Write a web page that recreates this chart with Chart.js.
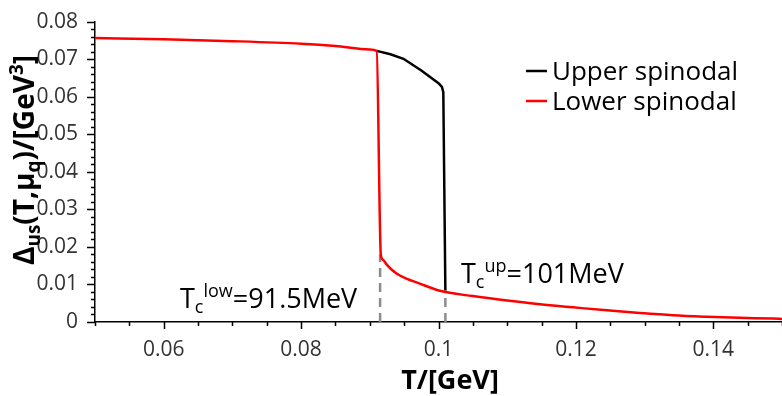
<!DOCTYPE html>
<html>
<head>
<meta charset="utf-8">
<script src="https://cdn.jsdelivr.net/npm/chart.js@4"></script>
<style>
    body { margin: 0; background: #fff; }
    #wrap { width: 782px; height: 396px; position: relative; }
</style>
</head>
<body>
<div id="wrap"><canvas id="chart"></canvas></div>
<script>
// T in GeV, Delta_us in GeV^3
const upperT = [0.0910, 0.0930, 0.0949, 0.0975, 0.1000, 0.1005, 0.1007, 0.1010];
const upperD = [0.0722, 0.0713, 0.0701, 0.0670, 0.0636, 0.0626, 0.0612, 0.0084];

const lowerT = [0.050, 0.060, 0.070, 0.080, 0.085, 0.090, 0.0910, 0.0916, 0.0919, 0.0925, 0.0932, 0.0940, 0.0954, 0.0969, 0.1002, 0.1050, 0.1100, 0.1148, 0.1196, 0.1245, 0.1293, 0.1341, 0.1390, 0.1438, 0.1486, 0.150];
const lowerD = [0.0756, 0.0753, 0.0748, 0.0741, 0.0735, 0.0726, 0.0722, 0.0180, 0.0166, 0.0152, 0.0139, 0.0128, 0.0115, 0.0105, 0.0083, 0.0069, 0.0057, 0.0047, 0.0039, 0.0031, 0.0024, 0.0018, 0.0014, 0.0011, 0.0009, 0.0008];

const seriesNames = ['Upper spinodal', 'Lower spinodal'];
const tcLow = 0.0915, tcLowD = 0.0180;
const tcUp = 0.1010, tcUpD = 0.0084;

const xMajor = [0.06, 0.08, 0.1, 0.12, 0.14];
const yMajor = [0, 0.01, 0.02, 0.03, 0.04, 0.05, 0.06, 0.07, 0.08];

const FONT = "'Open Sans', 'Noto Sans', sans-serif";

const pts = (xs, ys) => xs.map((x, i) => ({ x: x, y: ys[i] }));

function near(v, list) {
    return list.some(m => Math.abs(m - v) < 1e-6);
}

// tick marks (major + minor), drawn outward
const tickMarks = {
    id: 'tickMarks',
    afterDraw(chart) {
        const ctx = chart.ctx, xs = chart.scales.x, ys = chart.scales.y;
        const a = chart.chartArea;
        ctx.save();
        ctx.strokeStyle = '#000';
        ctx.lineWidth = 1.5;
        ctx.beginPath();
        for (let i = 0; i <= 20; i++) {
            const v = 0.05 + i * 0.005;
            const px = Math.round(xs.getPixelForValue(v)) + 0.5;
            const len = near(+v.toFixed(4), xMajor) ? 7 : 4;
            ctx.moveTo(px, a.bottom);
            ctx.lineTo(px, a.bottom + len);
        }
        for (let i = 0; i <= 40; i++) {
            const v = i * 0.002;
            const py = Math.round(ys.getPixelForValue(v)) + 0.5;
            const len = near(+v.toFixed(4), yMajor) ? 8 : 4;
            ctx.moveTo(a.left, py);
            ctx.lineTo(a.left - len, py);
        }
        ctx.stroke();
        ctx.restore();
    }
};

function richText(ctx, parts, x, y, align) {
    let w = 0;
    parts.forEach(p => { ctx.font = p.font; w += ctx.measureText(p.t).width; });
    let cx = align === 'center' ? x - w / 2 : x;
    parts.forEach(p => {
        ctx.font = p.font;
        ctx.fillText(p.t, cx, y + (p.dy || 0));
        cx += ctx.measureText(p.t).width;
    });
}

// titles, annotations, legend
const overlay = {
    id: 'overlay',
    afterDraw(chart) {
        const ctx = chart.ctx;
        ctx.save();
        ctx.fillStyle = '#000';
        ctx.textBaseline = 'alphabetic';
        ctx.textAlign = 'left';

        // y title
        const B = 'bold 28px ' + FONT, Bs = 'bold 19px ' + FONT;
        ctx.save();
        ctx.translate(34, 160);
        ctx.rotate(-Math.PI / 2);
        richText(ctx, [
            { t: 'Δ', font: B }, { t: 'us', font: Bs, dy: 6 },
            { t: '(T,μ', font: B }, { t: 'q', font: Bs, dy: 6 },
            { t: ')/[GeV', font: B }, { t: '3', font: Bs, dy: -11 },
            { t: ']', font: B }
        ], 0, 0, 'center');
        ctx.restore();

        // x title
        ctx.font = 'bold 27px ' + FONT;
        ctx.textAlign = 'center';
        ctx.fillText('T/[GeV]', 450, 389);
        ctx.textAlign = 'left';

        // Tc annotations
        const N = '27px ' + FONT, S = '18px ' + FONT;
        richText(ctx, [
            { t: 'T', font: N }, { t: 'c', font: S, dy: 5 }, { t: 'low', font: S, dy: -11 },
            { t: '=91.5MeV', font: N }
        ], 180, 308);
        richText(ctx, [
            { t: 'T', font: N }, { t: 'c', font: S, dy: 5 }, { t: 'up', font: S, dy: -11 },
            { t: '=101MeV', font: N }
        ], 461, 283);

        // legend
        const sets = chart.data.datasets.filter(d => seriesNames.includes(d.label));
        ctx.font = '26px ' + FONT;
        sets.forEach((d, i) => {
            const y = 71 + i * 30;
            ctx.strokeStyle = d.borderColor;
            ctx.lineWidth = 2.5;
            ctx.beginPath();
            ctx.moveTo(526, y);
            ctx.lineTo(547, y);
            ctx.stroke();
            ctx.fillStyle = '#000';
            ctx.fillText(d.label, 552, y + 9);
        });
        ctx.restore();
    }
};

new Chart(document.getElementById('chart'), {
    type: 'scatter',
    data: {
        datasets: [
            {
                label: 'Tc low marker',
                data: [{ x: tcLow, y: 0 }, { x: tcLow, y: tcLowD }],
                showLine: true,
                borderColor: '#8c8c8c',
                borderWidth: 2.5,
                borderDash: [9, 6],
                pointRadius: 0,
                order: 3
            },
            {
                label: 'Tc up marker',
                data: [{ x: tcUp, y: 0 }, { x: tcUp, y: tcUpD }],
                showLine: true,
                borderColor: '#8c8c8c',
                borderWidth: 2.5,
                borderDash: [9, 6],
                pointRadius: 0,
                order: 3
            },
            {
                label: seriesNames[0],
                data: pts(upperT, upperD),
                showLine: true,
                borderColor: '#000000',
                borderWidth: 2.5,
                pointRadius: 0,
                tension: 0,
                order: 2
            },
            {
                label: seriesNames[1],
                data: pts(lowerT, lowerD),
                showLine: true,
                borderColor: '#ff0000',
                borderWidth: 2.5,
                pointRadius: 0,
                cubicInterpolationMode: 'monotone',
                order: 1
            }
        ]
    },
    options: {
        responsive: true,
        maintainAspectRatio: false,
        animation: false,
        layout: { padding: { top: 16, left: 0, right: 0, bottom: 0 } },
        plugins: {
            legend: { display: false },
            tooltip: { enabled: false }
        },
        scales: {
            x: {
                type: 'linear',
                min: 0.05,
                max: 0.15,
                grid: { display: false },
                border: { display: true, color: '#000', width: 1.5 },
                afterFit: s => { s.height = 74; s.paddingLeft = 0; s.paddingRight = 0; },
                ticks: {
                    stepSize: 0.005,
                    autoSkip: false,
                    maxRotation: 0,
                    padding: 7,
                    color: '#333',
                    font: { family: FONT, size: 21 },
                    callback: v => near(+v.toFixed(4), xMajor) ? String(+v.toFixed(3)) : ''
                }
            },
            y: {
                min: 0,
                max: 0.08,
                grid: { display: false },
                border: { display: true, color: '#000', width: 1.5 },
                afterFit: s => { s.width = 95; },
                ticks: {
                    stepSize: 0.002,
                    autoSkip: false,
                    padding: 9,
                    color: '#333',
                    font: { family: FONT, size: 21 },
                    callback: v => near(+v.toFixed(4), yMajor) ? String(+v.toFixed(3)) : ''
                }
            }
        }
    },
    plugins: [tickMarks, overlay]
});
</script>
</body>
</html>
